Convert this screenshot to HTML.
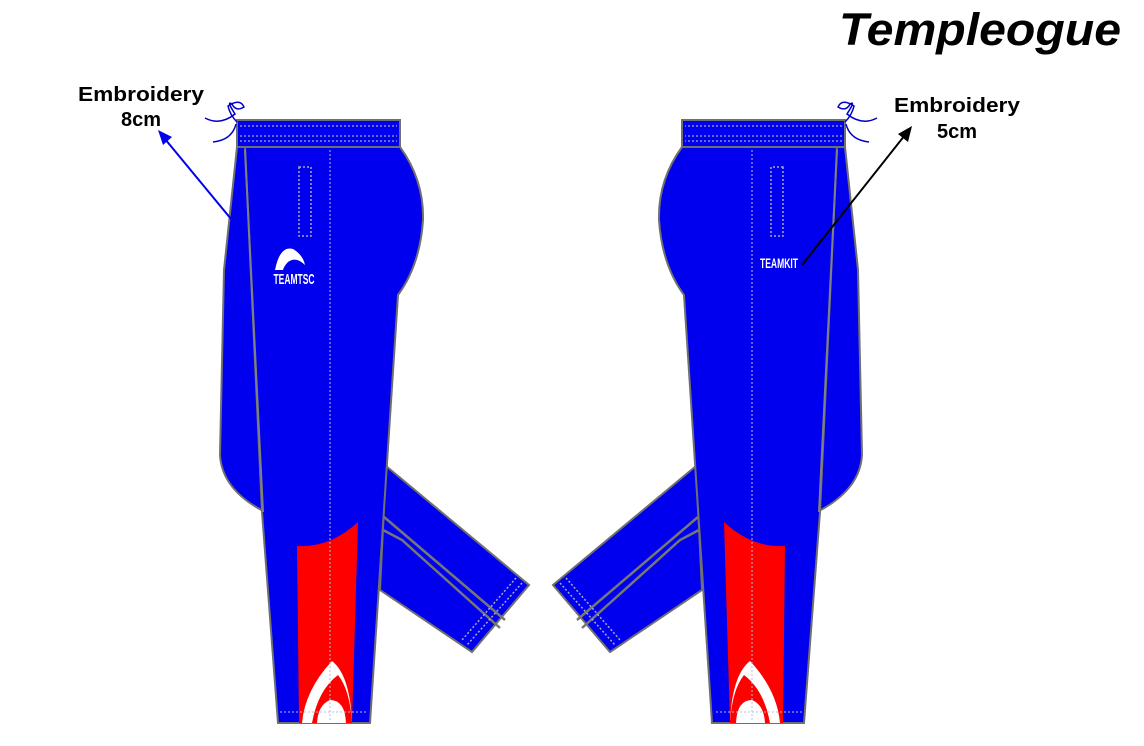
<!DOCTYPE html>
<html><head><meta charset="utf-8"><style>
html,body{margin:0;padding:0;background:#fff;width:1144px;height:746px;overflow:hidden}
svg{display:block}
text{font-family:"Liberation Sans",Arial,sans-serif}
</style></head><body>
<svg width="1144" height="746" viewBox="0 0 1144 746" xmlns="http://www.w3.org/2000/svg">
<defs>
<g id="pant">
  <path d="M386,466 L529,585 L472,652 L380,590 Z" fill="#0000ee" stroke="#707070" stroke-width="2"/>
  <path d="M384,517 L505,620 M383,530 L402,540 L500,628" fill="none" stroke="#777" stroke-width="2.5"/>
  <path d="M522,583 L467,645 M516,578 L462,640" fill="none" stroke="#aab" stroke-width="1.5" stroke-dasharray="2,2"/>
  <path d="M237,147 L224,270 L220,455 Q222,490 265,512 L262,147 Z" fill="#0000ee" stroke="#707070" stroke-width="2"/>
  <path d="M245,147 L400,147 Q424,180 423,220 Q420,265 398,295 L370,723 L278,723 L262,512 L245,147 Z" fill="#0000ee" stroke="#707070" stroke-width="2"/>
  <path d="M245,150 L263,512" stroke="#808080" stroke-width="2" fill="none"/>
  <path d="M297,546 Q330,548 358,522 L352,723 L299,723 Z" fill="#ff0000"/>
  <path d="M332,661 Q305,690 302,723 L312,723 Q318,690 338,675 Q350,690 352,723 L346,723 Q345,700 330,700 Q318,705 317,723 L352,723 Q350,675 332,661 Z" fill="#fff"/>
  <path d="M330,122 L330,722" stroke="#bbbbdd" stroke-width="1" stroke-dasharray="2,2"/>
  <path d="M280,712 L368,712" stroke="#bbbbdd" stroke-width="1" stroke-dasharray="2,2"/>
  <rect x="237" y="120" width="163" height="27" fill="#0000ee" stroke="#707070" stroke-width="2"/>
  <path d="M240,126 L397,126 M240,136 L397,136 M240,141 L397,141" stroke="#aab" stroke-width="1.2" stroke-dasharray="2,2"/>
  <rect x="299" y="167" width="12" height="69" fill="none" stroke="#aab" stroke-width="1.5" stroke-dasharray="2,2"/>
  <path d="M237,122 Q230,115 228,106 Q240,98 244,107 Q236,112 232,104 Q226,100 235,114 Q220,126 205,118 M236,124 Q232,140 213,142" fill="none" stroke="#0000cc" stroke-width="1.5"/>
</g>
</defs>
<use href="#pant"/>
<use href="#pant" transform="translate(1082,0) scale(-1,1)"/>
<path d="M275,270 Q280,245 293,249 Q303,255 305,265 Q296,256 288,262 Q284,266 283,270 Z" fill="#fff"/>
<text x="294" y="284" font-size="15" font-weight="bold" fill="#fff" text-anchor="middle" textLength="41" lengthAdjust="spacingAndGlyphs">TEAMTSC</text>
<text x="779" y="268" font-size="14" font-weight="bold" fill="#fff" text-anchor="middle" textLength="38" lengthAdjust="spacingAndGlyphs">TEAMKIT</text>
<line x1="236" y1="225" x2="165" y2="139" stroke="#0000ee" stroke-width="2"/>
<polygon points="158,130 172,137 163,145" fill="#0000ee"/>
<line x1="802" y1="265" x2="905" y2="135" stroke="#000" stroke-width="2"/>
<polygon points="912,126 908,142 898,134" fill="#000"/>
<text x="141" y="101" font-size="20" font-weight="bold" text-anchor="middle" textLength="126" lengthAdjust="spacingAndGlyphs">Embroidery</text>
<text x="141" y="126" font-size="20" font-weight="bold" text-anchor="middle">8cm</text>
<text x="957" y="112" font-size="20" font-weight="bold" text-anchor="middle" textLength="126" lengthAdjust="spacingAndGlyphs">Embroidery</text>
<text x="957" y="138" font-size="20" font-weight="bold" text-anchor="middle">5cm</text>
<text x="1121" y="45" font-size="45" font-weight="bold" font-style="italic" text-anchor="end" textLength="282" lengthAdjust="spacingAndGlyphs">Templeogue</text>
</svg>
</body></html>
